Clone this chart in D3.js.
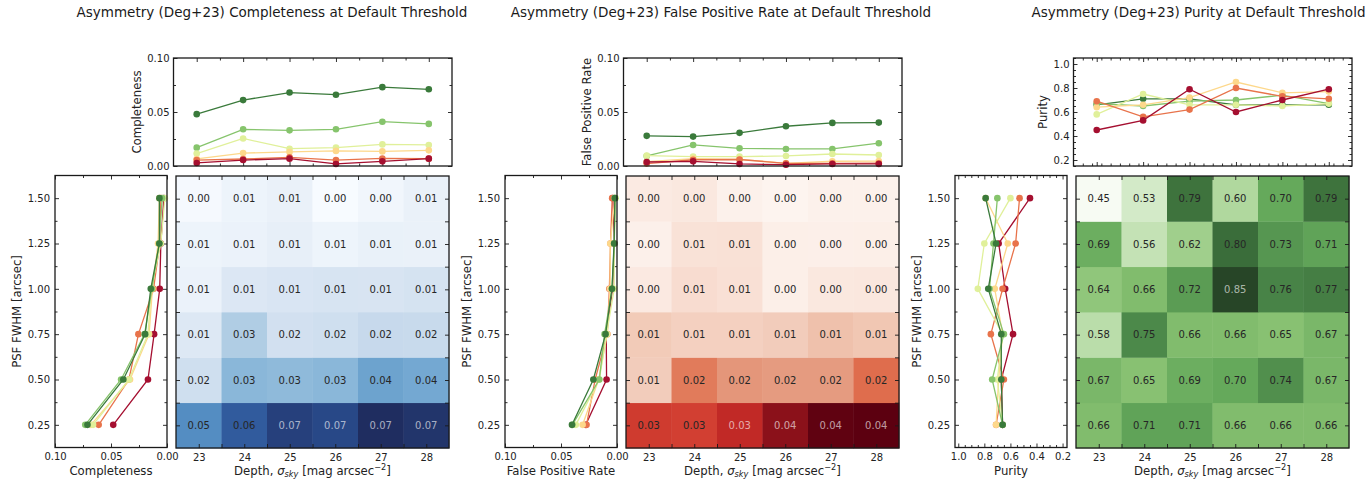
<!DOCTYPE html>
<html>
<head>
<meta charset="utf-8">
<script src="https://cdn.jsdelivr.net/npm/d3@7"></script>
<style>
  html, body { margin: 0; padding: 0; background: #fff; }
  svg { display: block; }
</style>
</head>
<body>
<svg id="chart" width="1370" height="486"></svg>
<script>
// ---- data -------------------------------------------------------------
const depths = [23, 24, 25, 26, 27, 28];                 // sky depth [mag arcsec^-2]
const psfFwhm = [0.25, 0.50, 0.75, 1.00, 1.25, 1.50];    // PSF FWHM [arcsec]

// rows follow psfFwhm, columns follow depths
const completeness = [
  [0.048, 0.061, 0.068, 0.066, 0.073, 0.071],
  [0.017, 0.034, 0.033, 0.034, 0.041, 0.039],
  [0.0115, 0.0255, 0.016, 0.017, 0.020, 0.0195],
  [0.0065, 0.012, 0.013, 0.014, 0.0135, 0.0145],
  [0.0055, 0.0065, 0.008, 0.0055, 0.007, 0.0068],
  [0.0028, 0.0055, 0.0068, 0.0019, 0.0043, 0.0068]
];
const falsePositiveRate = [
  [0.0279, 0.0272, 0.0307, 0.0368, 0.0399, 0.0402],
  [0.0093, 0.0195, 0.0164, 0.0158, 0.0158, 0.0211],
  [0.0096, 0.0087, 0.0087, 0.0093, 0.0111, 0.0102],
  [0.0040, 0.0068, 0.0062, 0.0025, 0.0044, 0.0045],
  [0.0022, 0.0058, 0.0060, 0.0025, 0.0024, 0.0026],
  [0.0037, 0.0043, 0.0019, 0.0012, 0.0019, 0.0019]
];
const purity = [
  [0.66, 0.71, 0.71, 0.66, 0.66, 0.66],
  [0.67, 0.65, 0.69, 0.70, 0.74, 0.67],
  [0.58, 0.75, 0.66, 0.66, 0.65, 0.67],
  [0.64, 0.66, 0.72, 0.85, 0.76, 0.77],
  [0.69, 0.56, 0.62, 0.80, 0.73, 0.71],
  [0.45, 0.53, 0.79, 0.60, 0.70, 0.79]
];

// tick labels
const rateTicks = [0, 0.05, 0.10];
const purityTicks = [0.2, 0.4, 0.6, 0.8, 1.0];
const psfTicks = psfFwhm;

// ---- styling ----------------------------------------------------------
const FONT = '"DejaVu Sans", "Liberation Sans", sans-serif';
const INK = '#1a1a1a';
const lineColors = ['#a50f30', '#e8734b', '#fdd88b', '#e0f09a', '#86c46c', '#3a7a3b']; // red -> green

// soft sequential ramps for the heatmaps (light -> dark)
const BLUES  = ['#f7fbff','#dfe9f5','#c8daec','#a3c6e0','#7aadd4','#5a93c6','#3b72b0','#2b4f92','#1f2d60'];
const REDS   = ['#fdf4ef','#f9e1d6','#efc2ad','#e59b80','#e0704f','#d94a38','#c32a26','#a0191e','#5c0010'];
const GREENS = ['#f7fbf3','#e3f1dc','#c9e5bb','#b0d89e','#88c172','#65a95b','#4c894a','#3a6d3a','#274527'];

const step = (a, b, s) => d3.range(Math.round((b - a) / s) + 1).map(i => +(a + i * s).toFixed(4));
const without = (arr, excl) => arr.filter(v => !excl.some(e => Math.abs(e - v) < 1e-6));

const panels = [
  {
    dx: 0, values: completeness, palette: BLUES, lightAbove: 0.064,
    title: 'Asymmetry (Deg+23) Completeness at Default Threshold', titleX: 272,
    metric: 'Completeness',
    topDomain: [0, 0.10], topMajor: rateTicks, topMinor: [0.025, 0.075], topFmt: d3.format('.2f'), topXMinor: 0.5,
    sideDomain: [0.10, 0], sideMajor: rateTicks, sideMinor: [0.025, 0.075], sideFmt: d3.format('.2f')
  },
  {
    dx: 450, values: falsePositiveRate, palette: REDS, lightAbove: 0.029,
    title: 'Asymmetry (Deg+23) False Positive Rate at Default Threshold', titleX: 721,
    metric: 'False Positive Rate',
    topDomain: [0, 0.10], topMajor: rateTicks, topMinor: [0.025, 0.075], topFmt: d3.format('.2f'), topXMinor: 0.5,
    sideDomain: [0.10, 0], sideMajor: rateTicks, sideMinor: [0.025, 0.075], sideFmt: d3.format('.2f')
  },
  {
    dx: 900, values: purity, palette: GREENS, lightAbove: 0.82,
    title: 'Asymmetry (Deg+23) Purity at Default Threshold', titleX: 1198.5,
    metric: 'Purity',
    topDomain: [0.15, 1.05], topMajor: purityTicks, topMinor: without(step(0.15, 1.05, 0.05), purityTicks), topFmt: d3.format('.1f'), topXMinor: 0.2,
    sideDomain: [1.025, 0.166], sideMajor: purityTicks, sideMinor: without(step(0.2, 1.0, 0.05), purityTicks), sideFmt: d3.format('.1f')
  }
];

const svg = d3.select('#chart').attr('font-family', FONT);

// inward ticks drawn with d3 axes; the frame is drawn separately
function ticks(g, axisFn, scale, values, size, fmt, transform, pad) {
  const axis = axisFn(scale)
    .tickValues(values)
    .tickSize(-size)
    .tickPadding(pad == null ? 4 : pad)
    .tickFormat(fmt || (() => ''));
  const sel = g.append('g').attr('transform', transform || null).call(axis);
  sel.attr('font-family', null).attr('font-size', null);
  sel.select('.domain').remove();
  sel.selectAll('line').attr('stroke', INK).attr('stroke-width', 0.9);
  sel.selectAll('text').attr('font-size', 10).attr('fill', '#222');
  return sel;
}

function frame(g, x0, x1, y0, y1) {
  g.append('rect')
    .attr('x', x0).attr('y', y0)
    .attr('width', x1 - x0).attr('height', y1 - y0)
    .attr('fill', 'none').attr('stroke', INK).attr('stroke-width', 1.3);
}

function yLabel(g, text, x, yc) {
  g.append('text')
    .attr('transform', `translate(${x},${yc}) rotate(-90)`)
    .attr('text-anchor', 'middle')
    .attr('font-size', 11.7).attr('fill', '#222')
    .text(text);
}

function maxWidth(sel) {
  return d3.max(sel.selectAll('text').nodes(), n => n.getBBox().width) || 0;
}

panels.forEach(p => {
  const g = svg.append('g');
  const dx = p.dx;

  // boxes
  const top  = { x0: 173.5 + dx, x1: 452 + dx, y0: 58, y1: 166 };
  const side = { x0: 55 + dx, x1: 167 + dx, y0: 175.5, y1: 447.5 };
  const heat = { x0: 176 + dx, x1: 449 + dx, y0: 176, y1: 448 };

  // title
  g.append('text')
    .attr('x', p.titleX).attr('y', 16.8)
    .attr('text-anchor', 'middle')
    .attr('font-size', 13.5).attr('fill', '#1a1a1a')
    .text(p.title);

  // ---------------- heatmap ----------------
  const hx = d3.scaleLinear().domain([22.5, 28.5]).range([heat.x0, heat.x1]);
  const hy = d3.scaleLinear().domain([0.125, 1.625]).range([heat.y1, heat.y0]);
  const flat = p.values.flat();
  const vmin = d3.min(flat), vmax = d3.max(flat);
  const cmap = d3.scaleLinear()
    .domain(d3.range(p.palette.length).map(i => i / (p.palette.length - 1)))
    .range(p.palette)
    .interpolate(d3.interpolateRgb)
    .clamp(true);
  const norm = d3.scaleLinear().domain([vmin, vmax]).range([0, 1]);

  const cells = [];
  psfFwhm.forEach((psf, i) => depths.forEach((dep, j) => cells.push({ psf, dep, v: p.values[i][j] })));

  g.append('g').selectAll('rect').data(cells).join('rect')
    .attr('x', d => hx(d.dep - 0.5))
    .attr('y', d => hy(d.psf + 0.125))
    .attr('width', d => hx(d.dep + 0.5) - hx(d.dep - 0.5) + 0.4)
    .attr('height', d => hy(d.psf - 0.125) - hy(d.psf + 0.125) + 0.4)
    .attr('fill', d => cmap(norm(d.v)));

  g.append('g').selectAll('text').data(cells).join('text')
    .attr('x', d => hx(d.dep))
    .attr('y', d => hy(d.psf))
    .attr('dy', '0.36em')
    .attr('text-anchor', 'middle')
    .attr('font-size', 10)
    .attr('fill', d => d.v > p.lightAbove ? '#ffffff' : '#262626')
    .attr('fill-opacity', d => d.v > p.lightAbove ? 0.62 : 1)
    .text(d => d3.format('.2f')(d.v));

  const heatXTicks = step(22.5, 28.5, 0.5).slice(1, -1);
  const heatYTicks = step(0.125, 1.625, 0.125).slice(1, -1);
  ticks(g, d3.axisBottom, hx, depths, 4, d3.format('d'), `translate(0,${heat.y1})`, 5.5);
  ticks(g, d3.axisBottom, hx, without(heatXTicks, depths), 4, null, `translate(0,${heat.y1})`);
  ticks(g, d3.axisTop, hx, heatXTicks, 4, null, `translate(0,${heat.y0})`);
  ticks(g, d3.axisLeft, hy, heatYTicks, 4, null, `translate(${heat.x0},0)`);
  ticks(g, d3.axisRight, hy, heatYTicks, 4, null, `translate(${heat.x1},0)`);
  frame(g, heat.x0, heat.x1, heat.y0, heat.y1);

  // depth axis label with italic sigma_sky and superscript -2
  const xl = g.append('text')
    .attr('x', (heat.x0 + heat.x1) / 2).attr('y', 474.5)
    .attr('text-anchor', 'middle')
    .attr('font-size', 11.7).attr('fill', '#222');
  xl.append('tspan').text('Depth, ');
  xl.append('tspan').attr('font-style', 'italic').text('σ');
  xl.append('tspan').attr('font-style', 'italic').attr('font-size', 8.2).attr('dy', 2.6).text('sky');
  xl.append('tspan').attr('dy', -2.6).text(' [mag arcsec');
  xl.append('tspan').attr('font-size', 8.2).attr('dy', -4.5).text('−2');
  xl.append('tspan').attr('dy', 4.5).text(']');

  // ---------------- top panel: metric vs depth ----------------
  const tx = d3.scaleLinear().domain([22.5, 28.5]).range([top.x0, top.x1]);
  const ty = d3.scaleLinear().domain(p.topDomain).range([top.y1, top.y0]);
  const txMinor = without(step(22.5, 28.5, p.topXMinor).slice(1, -1), depths);

  const topLab = ticks(g, d3.axisLeft, ty, p.topMajor, 4, p.topFmt, `translate(${top.x0},0)`, 4);
  ticks(g, d3.axisLeft, ty, p.topMinor, 2.5, null, `translate(${top.x0},0)`);
  ticks(g, d3.axisRight, ty, p.topMajor, 4, null, `translate(${top.x1},0)`);
  ticks(g, d3.axisRight, ty, p.topMinor, 2.5, null, `translate(${top.x1},0)`);
  ticks(g, d3.axisTop, tx, depths, 4, null, `translate(0,${top.y0})`);
  ticks(g, d3.axisTop, tx, txMinor, 2.5, null, `translate(0,${top.y0})`);
  ticks(g, d3.axisBottom, tx, depths, 4, null, `translate(0,${top.y1})`);
  ticks(g, d3.axisBottom, tx, txMinor, 2.5, null, `translate(0,${top.y1})`);

  const topLine = d3.line().x(d => tx(d.dep)).y(d => ty(d.v));
  psfFwhm.forEach((psf, i) => {
    const pts = depths.map((dep, j) => ({ dep, v: p.values[i][j] }));
    const col = lineColors[lineColors.length - 1 - i];
    g.append('path').attr('d', topLine(pts))
      .attr('fill', 'none').attr('stroke', col).attr('stroke-width', 1.3);
    g.append('g').selectAll('circle').data(pts).join('circle')
      .attr('cx', d => tx(d.dep)).attr('cy', d => ty(d.v)).attr('r', 3.3)
      .attr('fill', col);
  });
  frame(g, top.x0, top.x1, top.y0, top.y1);
  yLabel(g, p.metric, top.x0 - 4 - maxWidth(topLab) - 6.5, (top.y0 + top.y1) / 2);

  // ---------------- side panel: metric vs PSF FWHM ----------------
  const sx = d3.scaleLinear().domain(p.sideDomain).range([side.x0, side.x1]);
  const sy = d3.scaleLinear().domain([0.125, 1.625]).range([side.y1, side.y0]);
  const syMinor = without(step(0.125, 1.625, 0.125).slice(1, -1), psfTicks);

  ticks(g, d3.axisBottom, sx, p.sideMajor, 4, p.sideFmt, `translate(0,${side.y1})`, 5.5);
  ticks(g, d3.axisBottom, sx, p.sideMinor, 2.5, null, `translate(0,${side.y1})`);
  ticks(g, d3.axisTop, sx, p.sideMajor, 4, null, `translate(0,${side.y0})`);
  ticks(g, d3.axisTop, sx, p.sideMinor, 2.5, null, `translate(0,${side.y0})`);
  const sideLab = ticks(g, d3.axisLeft, sy, psfTicks, 4, d3.format('.2f'), `translate(${side.x0},0)`, 5);
  ticks(g, d3.axisLeft, sy, syMinor, 2.5, null, `translate(${side.x0},0)`);
  ticks(g, d3.axisRight, sy, psfTicks, 4, null, `translate(${side.x1},0)`);
  ticks(g, d3.axisRight, sy, syMinor, 2.5, null, `translate(${side.x1},0)`);

  const sideLine = d3.line().x(d => sx(d.v)).y(d => sy(d.psf));
  depths.forEach((dep, j) => {
    const pts = psfFwhm.map((psf, i) => ({ psf, v: p.values[i][j] }));
    const col = lineColors[j];
    g.append('path').attr('d', sideLine(pts))
      .attr('fill', 'none').attr('stroke', col).attr('stroke-width', 1.3);
    g.append('g').selectAll('circle').data(pts).join('circle')
      .attr('cx', d => sx(d.v)).attr('cy', d => sy(d.psf)).attr('r', 3.3)
      .attr('fill', col);
  });
  frame(g, side.x0, side.x1, side.y0, side.y1);

  g.append('text')
    .attr('x', (side.x0 + side.x1) / 2).attr('y', 474.5)
    .attr('text-anchor', 'middle')
    .attr('font-size', 11.7).attr('fill', '#222')
    .text(p.metric);
  yLabel(g, 'PSF FWHM [arcsec]', side.x0 - 5 - maxWidth(sideLab) - 6.5, (side.y0 + side.y1) / 2);
});
</script>
</body>
</html>
